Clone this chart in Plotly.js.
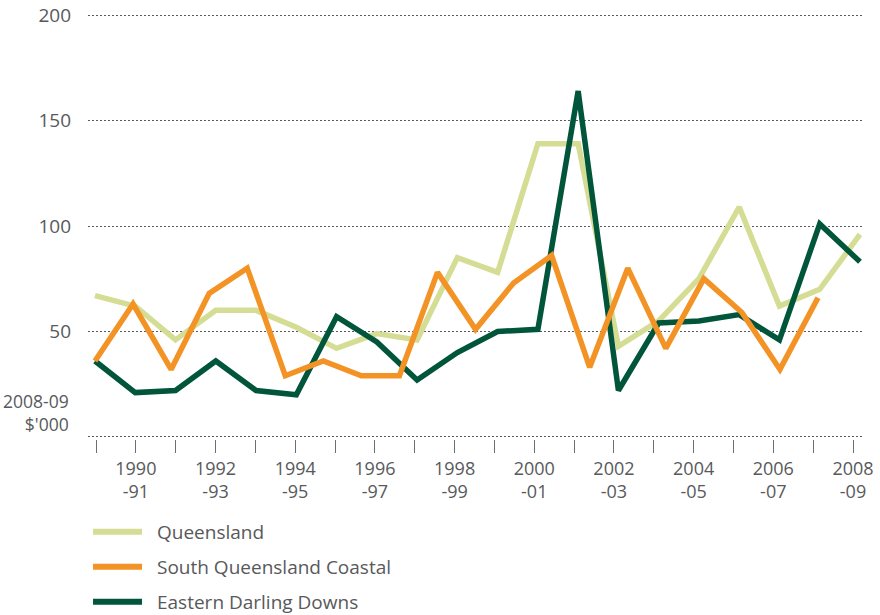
<!DOCTYPE html>
<html>
<head>
<meta charset="utf-8">
<script src="https://cdn.plot.ly/plotly-3.0.1.min.js"></script>
<style>
  html, body { margin: 0; padding: 0; background: #fff; }
  #chart { width: 880px; height: 615px; }
</style>
</head>
<body>
<div id="chart"></div>
<script>
// Financial years
const years = ['1989-90','1990-91','1991-92','1992-93','1993-94','1994-95','1995-96','1996-97',
  '1997-98','1998-99','1999-00','2000-01','2001-02','2002-03','2003-04','2004-05',
  '2005-06','2006-07','2007-08','2008-09'];

// Values, 2008-09 $'000
const queensland = [67, 62, 46, 60, 60, 52, 42, 49, 46, 85, 78, 139, 139, 43, 55, 75, 109, 62, 70, 96];
const southQldCoastal = [36, 63, 32, 68, 80, 29, 36, 29, 29, 78, 51, 73, 86, 33, 80, 42, 75, 59, 32, 66];
const easternDarlingDowns = [36, 21, 22, 36, 22, 20, 57, 45, 27, 40, 50, 51, 164, 22, 54, 55, 58, 46, 101, 83];

const yTicks = [0, 50, 100, 150, 200];
const yTickText = ['', '50', '100', '150', '200'];
const yUnitLabel = "2008-09<br>$'000";

const seriesNames = ['Queensland', 'South Queensland Coastal', 'Eastern Darling Downs'];
const colors = ['#d5dd95', '#f39325', '#00553a'];

// Two-line year labels on every second year
const yearIndex = years.map((y, i) => i);
const yearLabels = years.map((y, i) => {
  if (i % 2 === 0) return '';
  const parts = y.split('-');
  return parts[0] + '<br>-' + parts[1];
});

const textColor = '#58595b';
const fontFamily = 'Open Sans, Noto Sans, sans-serif';
const fontSize = 19;

const lineTrace = (vals, idx, xa) => ({
  x: years, y: vals, name: seriesNames[idx], xaxis: xa, yaxis: 'y',
  mode: 'lines', line: { color: colors[idx], width: 5.5 }
});
// empty trace that carries the year-label axis
const axisCarrier = (xa) => ({ x: [], y: [], xaxis: xa, yaxis: 'y', mode: 'lines', hoverinfo: 'skip' });

const traces = [
  axisCarrier('x2'),
  lineTrace(southQldCoastal, 1, 'x3'),
  lineTrace(queensland, 0, 'x'),
  lineTrace(easternDarlingDowns, 2, 'x')
];

// legend drawn as short line samples with labels beneath the plot
const legendRows = [-0.218, -0.300, -0.382];
const shapes = seriesNames.map((n, i) => ({
  type: 'line', xref: 'paper', yref: 'paper',
  x0: 0.0065, x1: 0.0698, y0: legendRows[i], y1: legendRows[i],
  line: { color: colors[i], width: 6 }
}));
const annotations = seriesNames.map((n, i) => ({
  text: n, xref: 'paper', yref: 'paper', x: 0.0866, y: legendRows[i],
  xanchor: 'left', yanchor: 'middle', showarrow: false,
  font: { family: fontFamily, size: fontSize, color: textColor }
}));
annotations.push({
  text: yUnitLabel, xref: 'paper', yref: 'y', x: -0.022, y: -0.5,
  xanchor: 'right', yanchor: 'bottom', align: 'right', showarrow: false,
  font: { family: fontFamily, size: 17.5, color: textColor }
});

const tickFont = { family: fontFamily, size: fontSize, color: textColor };

const layout = {
  width: 880, height: 615,
  margin: { l: 88, r: 18, t: 12.9, b: 175.9 },
  paper_bgcolor: '#fff', plot_bgcolor: '#fff',
  showlegend: false,
  font: tickFont,
  xaxis: {
    type: 'category', categoryorder: 'array', categoryarray: years,
    range: [-0.174, 19.050],
    showgrid: false, showticklabels: false, ticks: '', zeroline: false, showline: false
  },
  xaxis3: {
    type: 'category', overlaying: 'x', anchor: 'y', categoryorder: 'array', categoryarray: years,
    range: [-0.184, 20.156],
    showgrid: false, showticklabels: false, ticks: '', zeroline: false, showline: false
  },
  xaxis2: {
    type: 'linear', overlaying: 'x', anchor: 'y', side: 'bottom', range: [-0.2008, 19.226],
    tickmode: 'array', tickvals: yearIndex, ticktext: yearLabels,
    ticks: 'outside', ticklen: 13, tickwidth: 1, tickcolor: '#6d6e70',
    ticklabelstandoff: 0,
    showgrid: false, zeroline: false, showline: false,
    tickfont: { family: fontFamily, size: 18, color: textColor }
  },
  yaxis: {
    range: [-1, 201], tickmode: 'array', tickvals: yTicks, ticktext: yTickText,
    showgrid: true, gridcolor: '#5a5a5a', gridwidth: 1, griddash: '2px,2px',
    zeroline: false, showline: false, ticks: '', ticklabelstandoff: 16,
    tickfont: tickFont
  },
  shapes: shapes,
  annotations: annotations
};

Plotly.newPlot('chart', traces, layout, { staticPlot: true, displayModeBar: false });
</script>
</body>
</html>
